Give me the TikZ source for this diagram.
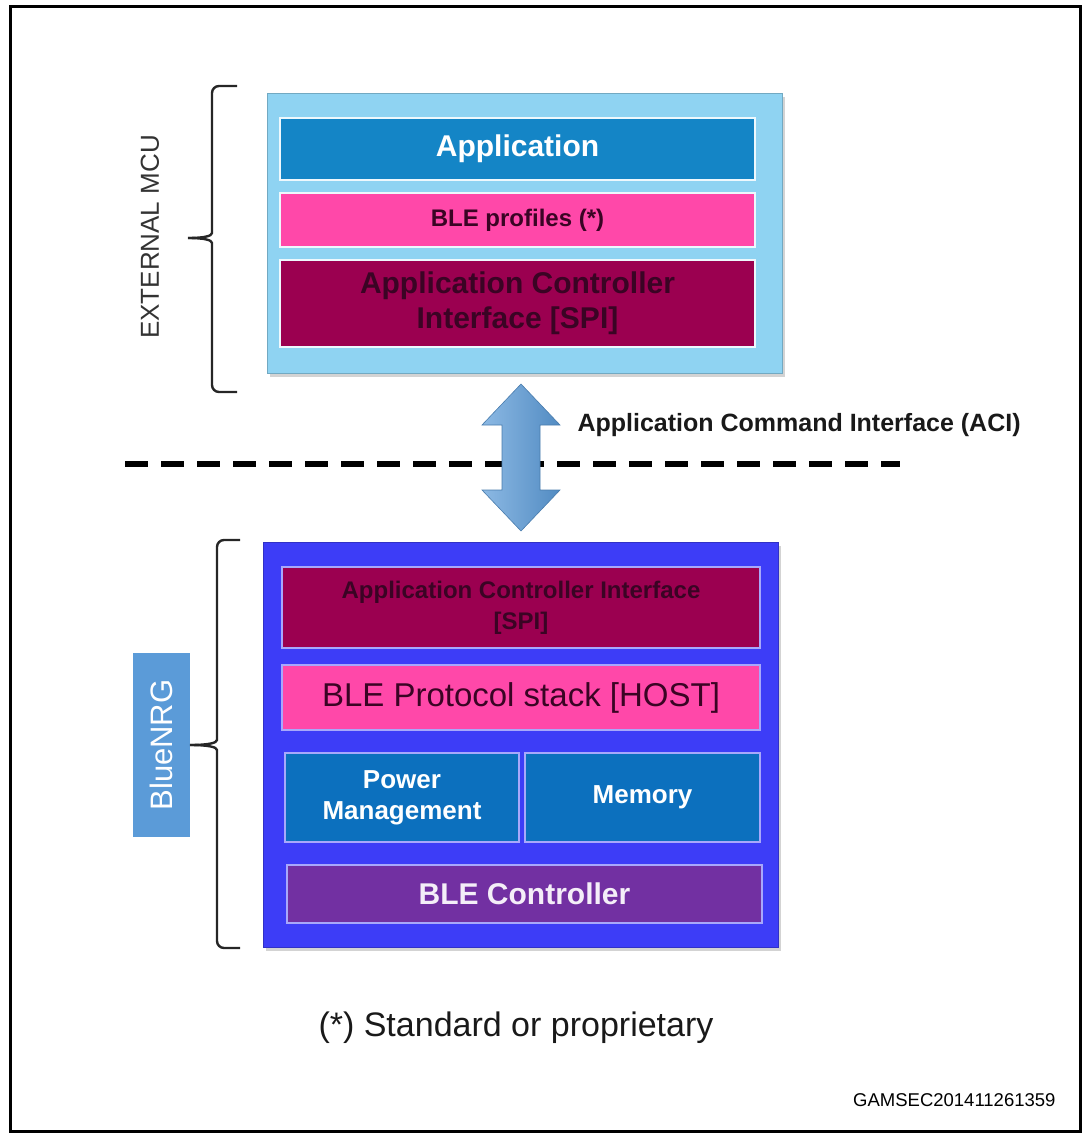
\documentclass[tikz,border=0pt]{standalone}
\usepackage{fontspec}
\setmainfont{Liberation Sans}
\usepackage{tikz}
\usetikzlibrary{%
  calc,%
  shadows%
}
\definecolor{mcufill}{HTML}{8FD3F2}
\definecolor{nrgfill}{HTML}{3D3DF7}
\definecolor{appblue}{HTML}{1485C6}
\definecolor{blepink}{HTML}{FF48A9}
\definecolor{acired}{HTML}{9B0050}
\definecolor{pmblue}{HTML}{0C70BE}
\definecolor{ctrlpurple}{HTML}{7230A2}
\definecolor{nrglabel}{HTML}{5B9BD8}
\definecolor{darktxt}{HTML}{3A0424}
\newcommand{\sizefont}[2]{\fontsize{#1}{#2}\selectfont}
\tikzset{>=latex,
  block/.style={draw=#1!80!black, fill=#1, line width=1pt,
    drop shadow={shadow xshift=3pt,shadow yshift=-4pt,opacity=.35}},
  upbox/.style={draw=white!85!mcufill, line width=1.8pt, fill=#1,
    inner sep=0pt, align=center, minimum width=475pt},
  lobox/.style={draw=nrgfill!45!white, line width=1.5pt, fill=#1,
    inner sep=0pt, align=center},
  bracket/.style={line width=2.4pt, black!85, rounded corners=7pt},
  acishape/.style={draw=nrglabel!80!black, line width=.6pt,
    left color=nrglabel!70!white, right color=nrglabel!90!black}
}

\begin{document}
\begin{tikzpicture}[x=1pt,y=-1pt]
    \useasboundingbox (0,0) rectangle (1084,1135);
    \draw[line width=3pt] (10,6) rectangle (1080,1131);
    \node[block=mcufill, minimum width=515pt, minimum height=280pt] (mcu) at
    (524.5,233) {};
    \node[upbox=appblue, minimum height=62pt, text=white,
    font=\sizefont{30}{34}\bfseries] (app) at (517.5,149) {Application};
    \node[upbox=blepink, minimum height=54pt, text=darktxt,
    font=\sizefont{24}{28}\bfseries] (prof) at (517.5,220) {BLE profiles (*)};
    \node[upbox=acired, minimum height=87pt, text=darktxt,
    font=\sizefont{30}{35}\bfseries] (aciup) at (517.5,303.5)
    {Application Controller\\Interface [SPI]};
    \node[rotate=90, text=black!80, font=\sizefont{26}{30}] (extmcu) at
    (150,237) {EXTERNAL MCU};
    \draw[bracket] (237,86) -| (212,226) .. controls (212,236) and (204,238) ..
    (188,238);
    \draw[bracket] (188,238) .. controls (204,238) and (212,240) .. (212,250)
    |- (237,392);

    \node[block=nrgfill, minimum width=515pt, minimum height=405pt] (nrg) at
    (520.5,744.5) {};
    \node[lobox=acired, minimum width=478pt, minimum height=81pt, text=darktxt,
    font=\sizefont{24}{31}\bfseries] (acilo) at (521,607.5)
    {Application Controller Interface\\{[SPI]}};
    \node[lobox=blepink, minimum width=478pt, minimum height=65pt, text=darktxt,
    font=\sizefont{33}{36}] (host) at (521,697.5) {BLE Protocol stack [HOST]};
    \node[lobox=pmblue, minimum width=234pt, minimum height=89pt, text=white,
    font=\sizefont{26}{31}\bfseries] (power) at (402,797.5)
    {Power\\Management};
    \node[lobox=pmblue, minimum width=235pt, minimum height=89pt, text=white,
    font=\sizefont{26}{31}\bfseries] (memory) at (642.5,797.5) {Memory};
    \node[lobox=ctrlpurple, minimum width=475pt, minimum height=58pt,
    text=white!92!ctrlpurple, font=\sizefont{30}{34}\bfseries] (ctrl) at
    (524.5,894) {BLE Controller};
    \node[rotate=90, fill=nrglabel, text=white, minimum width=184pt,
    minimum height=57pt, font=\sizefont{31}{34}] (bluenrg) at (161.5,745)
    {BlueNRG};
    \draw[bracket] (240,540) -| (217,733) .. controls (217,743) and (208,745) ..
    (190,745);
    \draw[bracket] (190,745) .. controls (208,745) and (217,747) .. (217,757)
    |- (240,948);

    \draw[line width=6pt, dash pattern=on 23pt off 13pt] (125,464) -- (900,464);
    \coordinate (acimid) at ($(mcu.south)!0.5!(nrg.north)$);
    \draw[acishape] (acimid) ++(-1.5,-73.5) -- ++(39,41) -- ++(-20,0)
    -- ++(0,65) -- ++(20,0) -- ++(-39,41) -- ++(-39,-41) -- ++(20,0)
    -- ++(0,-65) -- ++(-20,0) -- cycle;
    \node[anchor=west, text=black!90, font=\sizefont{25}{28}\bfseries] (acitxt)
    at (574,425) {Application Command Interface (ACI)};

    \node[font=\sizefont{34}{38}, text=black!90] (note) at (516,1028)
    {(*) Standard or proprietary};
    \node[anchor=east, font=\sizefont{18.5}{22}] (code) at (1059,1100)
    {GAMSEC201411261359};
  \end{tikzpicture}
\end{document}
